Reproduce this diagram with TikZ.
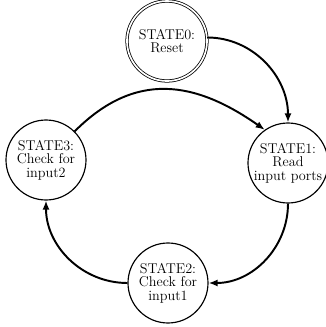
\documentclass[tikz,border=0pt]{standalone}
\usetikzlibrary{arrows.meta}
\begin{document}
\begin{tikzpicture}[x=0.775pt,y=0.775pt,
  state/.style={circle, draw, line width=0.9pt, minimum size=62pt, inner sep=0pt,
    align=center, font=\fontsize{11}{10.5}\selectfont},
  start/.style={state, double, line width=0.6pt, double distance=1.3pt},
  trans/.style={line width=1.5pt, -{Latex[length=7pt,width=5.5pt]}}]
\useasboundingbox (0,0) rectangle (326,-327);
% states
\node[start] (s0) at (167,-41) {STATE0:\\Reset};
\node[state] (s1) at (288,-163) {STATE1:\\Read\\input ports};
\node[state] (s2) at (168,-283) {STATE2:\\Check for\\input1};
\node[state] (s3) at (46,-160) {STATE3:\\Check for\\input2};
% transitions
\draw[trans] (s0.5) to[out=0,in=90] (s1.north);
\draw[trans] (s1.south) to[out=-90,in=0] (s2.east);
\draw[trans] (s2.west) to[out=180,in=-90] (s3.south);
\draw[trans] (s3.45) to[out=45,in=145,looseness=1.15] (s1.125);
\end{tikzpicture}
\end{document}
